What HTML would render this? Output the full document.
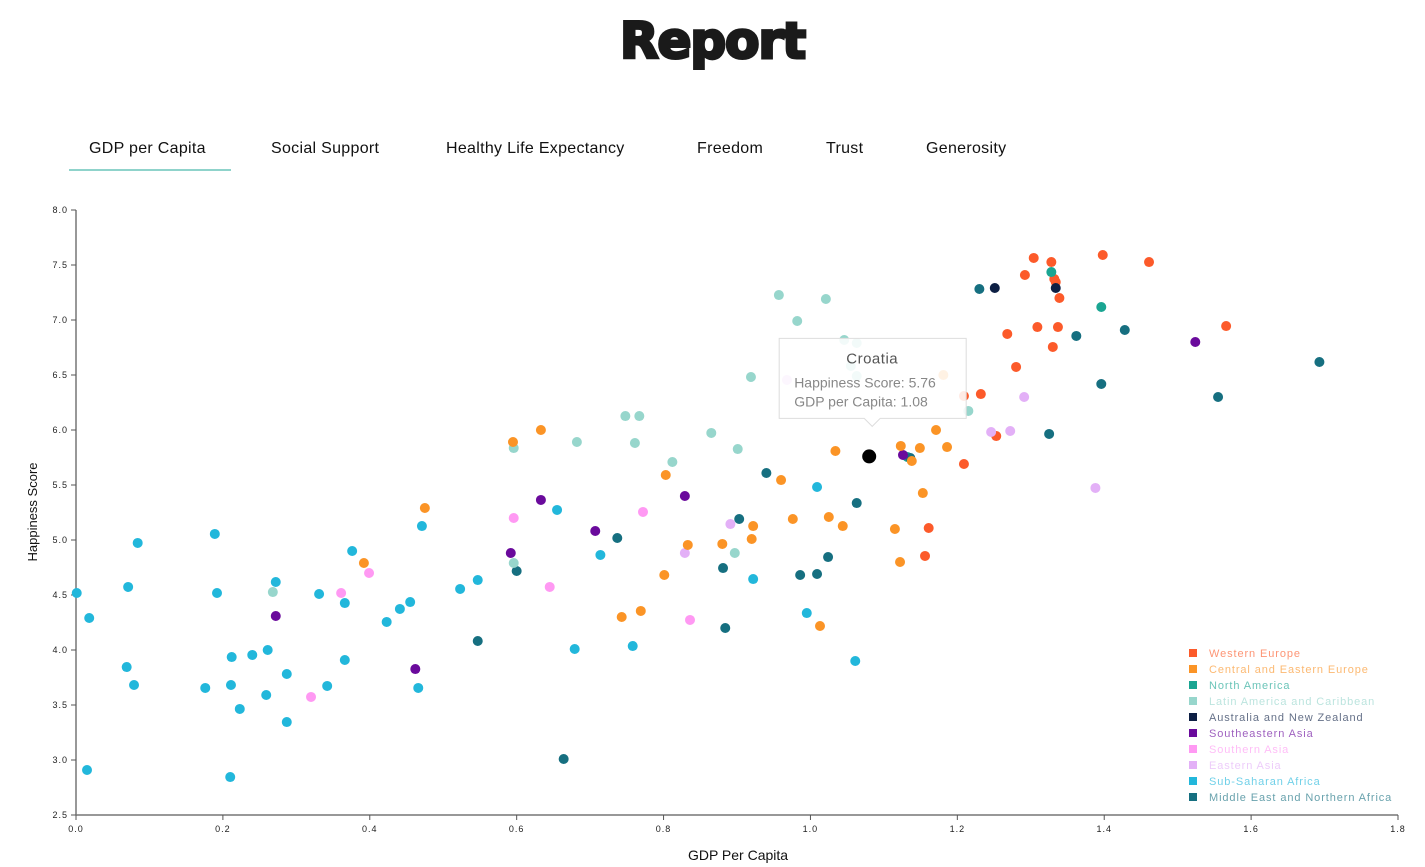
<!DOCTYPE html>
<html><head><meta charset="utf-8"><style>
body{margin:0;background:#fff;font-family:"Liberation Sans",sans-serif;}
#wrap{position:relative;width:1425px;height:867px;overflow:hidden}
.title{position:absolute;left:0;width:1425px;top:12px;text-align:center;font-family:"DejaVu Sans",sans-serif;font-weight:900;font-size:50px;color:#1a1a1a;-webkit-text-stroke:3px #1a1a1a;letter-spacing:-1px}
.tab{position:absolute;top:140px;font-size:16px;color:#111;letter-spacing:0.3px}
.ul{position:absolute;left:69px;top:169px;width:162px;height:2px;background:#8fd3cb}
</style></head><body>
<div id="wrap">
<div class="title">Report</div>
<div class="tab" style="left:89px">GDP per Capita</div>
<div class="tab" style="left:271px">Social Support</div>
<div class="tab" style="left:446px">Healthy Life Expectancy</div>
<div class="tab" style="left:697px">Freedom</div>
<div class="tab" style="left:826px">Trust</div>
<div class="tab" style="left:926px">Generosity</div>
<div class="ul"></div>
<svg id="chart" width="1425" height="867" style="position:absolute;left:0;top:0"></svg>
</div>
<script>
const regions=["Western Europe","Central and Eastern Europe","North America","Latin America and Caribbean","Australia and New Zealand","Southeastern Asia","Southern Asia","Eastern Asia","Sub-Saharan Africa","Middle East and Northern Africa"];
const regionColors=["#fc5a2a","#fb9426","#1aa592","#97d6cc","#0d1f44","#6a0a9c","#ff99f3","#e3b0f7","#22b7db","#166f80"];
const xTicks=[0,0.2,0.4,0.6,0.8,1.0,1.2,1.4,1.6,1.8];
const yTicks=[2.5,3.0,3.5,4.0,4.5,5.0,5.5,6.0,6.5,7.0,7.5,8.0];
const gdp=[
1.304,1.328,1.398,1.461,1.292,1.332,1.334,1.339,1.566,1.309,1.337,1.268,1.330,1.280,1.209,1.232,1.253,1.209,1.161,1.156,
1.328,1.396,1.132,
1.251,1.334,
1.230,1.362,1.428,1.396,1.555,1.693,1.325,1.063,0.940,0.903,1.024,1.009,0.986,0.881,0.884,0.737,0.600,0.547,0.664,1.136,
1.524,1.126,0.829,0.707,0.633,0.592,0.272,0.462,
0.596,0.772,0.645,0.836,0.399,0.361,0.320,
1.388,1.291,1.246,1.272,0.891,0.829,0.968,
0.957,1.021,0.982,0.919,1.046,1.063,1.055,1.063,0.748,0.767,0.596,0.682,0.761,0.865,0.901,0.812,1.215,0.897,0.596,0.268,
0.633,0.595,1.181,1.171,1.123,1.149,1.186,1.138,1.034,0.960,1.153,0.803,0.976,1.025,1.044,0.922,0.920,0.880,0.833,0.801,0.769,0.743,1.013,0.475,0.392,1.115,1.122,
0.001,0.018,0.084,0.071,0.069,0.079,0.015,0.189,0.192,0.272,0.261,0.212,0.240,0.211,0.176,0.223,0.259,0.287,0.287,0.210,0.331,0.366,0.366,0.342,0.376,0.423,0.441,0.455,0.471,0.466,0.523,0.547,0.655,0.714,0.922,1.009,0.995,0.758,0.679,1.061];
const score=[
7.564,7.527,7.591,7.527,7.409,7.373,7.345,7.200,6.945,6.936,6.936,6.873,6.755,6.573,6.309,6.327,5.945,5.691,5.109,4.855,
7.436,7.118,5.755,
7.291,7.291,
7.282,6.855,6.909,6.418,6.300,6.618,5.964,5.336,5.609,5.191,4.845,4.691,4.682,4.745,4.200,5.018,4.718,4.082,3.009,5.745,
6.800,5.773,5.400,5.082,5.364,4.882,4.309,3.827,
5.200,5.255,4.573,4.273,4.700,4.518,3.573,
5.473,6.300,5.982,5.991,5.145,4.882,6.455,
7.227,7.191,6.991,6.482,6.818,6.791,6.582,6.491,6.127,6.127,5.836,5.891,5.882,5.973,5.827,5.709,6.173,4.882,4.791,4.527,
6.000,5.891,6.500,6.000,5.855,5.836,5.845,5.718,5.809,5.545,5.427,5.591,5.191,5.209,5.127,5.127,5.009,4.964,4.955,4.682,4.355,4.300,4.218,5.291,4.791,5.100,4.800,
4.518,4.291,4.973,4.573,3.845,3.682,2.909,5.055,4.518,4.618,4.000,3.936,3.955,3.682,3.655,3.464,3.591,3.782,3.345,2.845,4.509,4.427,3.909,3.673,4.900,4.255,4.373,4.436,5.127,3.655,4.555,4.636,5.273,4.864,4.645,5.482,4.336,4.036,4.009,3.900];
const regionIdx=[
0,0,0,0,0,0,0,0,0,0,0,0,0,0,0,0,0,0,0,0,
2,2,2,
4,4,
9,9,9,9,9,9,9,9,9,9,9,9,9,9,9,9,9,9,9,9,
5,5,5,5,5,5,5,5,
6,6,6,6,6,6,6,
7,7,7,7,7,7,7,
3,3,3,3,3,3,3,3,3,3,3,3,3,3,3,3,3,3,3,3,
1,1,1,1,1,1,1,1,1,1,1,1,1,1,1,1,1,1,1,1,1,1,1,1,1,1,1,
8,8,8,8,8,8,8,8,8,8,8,8,8,8,8,8,8,8,8,8,8,8,8,8,8,8,8,8,8,8,8,8,8,8,8,8,8,8,8,8];
const selName="Croatia", selGdp=1.08, selScore=5.76;

const NS="http://www.w3.org/2000/svg";
const svg=document.getElementById('chart');
const X0=76,X1=1398,Y0=815,Y1=210;
const xs=v=>X0+(v-0)/(1.8-0)*(X1-X0);
const ys=v=>Y0-(v-2.5)/(8-2.5)*(Y0-Y1);
function mk(t,a,p){const e=document.createElementNS(NS,t);for(const k in a)e.setAttribute(k,a[k]);(p||svg).appendChild(e);return e;}
let xa=mk('line',{x1:X0,y1:Y0,x2:X1,y2:Y0,stroke:'#777','stroke-width':1.5});


let ya=mk('line',{x1:X0,y1:Y0,x2:X0,y2:Y1,stroke:'#777','stroke-width':1.5});


xTicks.forEach(t=>{
 const x=xs(t);
 mk('line',{x1:x,y1:Y0,x2:x,y2:Y0+5,stroke:'#555'});
 const tx=mk('text',{x:x,y:Y0+17,'text-anchor':'middle','font-size':9,'letter-spacing':1,fill:'#222'});
 tx.textContent=t.toFixed(1);
 
 
});
yTicks.forEach(t=>{
 const y=ys(t);
 mk('line',{x1:X0-5,y1:y,x2:X0,y2:y,stroke:'#555'});
 const tx=mk('text',{x:X0-8,y:y+3,'text-anchor':'end','font-size':9,'letter-spacing':1,fill:'#222'});
 tx.textContent=t.toFixed(1);
 
 
});
let xt=mk('text',{x:738,y:860,'text-anchor':'middle','font-size':14,fill:'#111'});xt.textContent='GDP Per Capita';


let yt=mk('text',{x:0,y:0,'text-anchor':'middle','font-size':13,fill:'#111',transform:'translate(37,512) rotate(-90)'});yt.textContent='Happiness Score';


for(let i=0;i<gdp.length;i++){
 const c=mk('circle',{cx:xs(gdp[i]),cy:ys(score[i]),r:5,fill:regionColors[regionIdx[i]]});
 
 
}
const sel=mk('circle',{cx:xs(selGdp),cy:ys(selScore),r:7,fill:'#000'});


const tg=mk('g',{});


const sx=xs(selGdp)+3,sy=ys(selScore);
mk('path',{d:`M${sx-93},${sy-118} H${sx+94} V${sy-38} H${sx+8} L${sx},${sy-30} L${sx-8},${sy-38} H${sx-93} Z`,fill:'rgba(255,255,255,0.88)',stroke:'#ddd','stroke-width':1},tg);
let t1=mk('text',{x:sx,y:sy-93,'text-anchor':'middle','font-size':15,fill:'#555','letter-spacing':0.5},tg);t1.textContent=selName;
let t2=mk('text',{x:sx-78,y:sy-69,'font-size':14,fill:'#888'},tg);t2.textContent='Happiness Score: '+selScore.toFixed(2);
let t3=mk('text',{x:sx-78,y:sy-50,'font-size':14,fill:'#888'},tg);t3.textContent='GDP per Capita: '+selGdp.toFixed(2);
regions.forEach((r,i)=>{
 const g=mk('g',{});
 
 
 const y=649+i*16;
 mk('rect',{x:1189,y:y,width:8,height:8,fill:regionColors[i]},g);
 const t=mk('text',{x:1209,y:y+8,'font-size':11,fill:regionColors[i],'fill-opacity':0.65,'letter-spacing':0.9},g);
 t.textContent=r;
});
</script>
</body></html>
